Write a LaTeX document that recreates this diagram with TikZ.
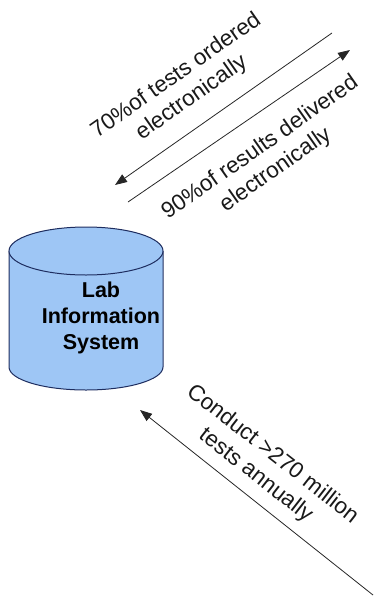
\documentclass[tikz,border=0pt]{standalone}
\usepackage{fontspec}
\setmainfont{Liberation Sans}
\usetikzlibrary{arrows.meta}
\definecolor{cylfill}{RGB}{158,198,245}
\definecolor{cyldraw}{RGB}{30,45,95}
\begin{document}
\begin{tikzpicture}[x=1pt,y=-1pt,
  conn/.style={draw=black!85,line width=0.8pt,-{Triangle[length=12pt,width=9pt]}},
  lbl/.style={font=\fontsize{22.5}{27}\selectfont,align=center,inner sep=0pt,text=black!90},
  lis/.style={font=\bfseries\fontsize{21.5}{26}\selectfont,align=center,inner sep=0pt}]
\useasboundingbox (0,0) rectangle (374,603);
% cylinder
\fill[cylfill] (9,251) rectangle (163,367);
\fill[cylfill] (86,367) ellipse [x radius=77,y radius=23];
\draw[cyldraw,line width=1pt] (9,251) -- (9,367) arc[start angle=180,end angle=360,x radius=77,y radius=-23] -- (163,251);
\draw[cyldraw,fill=cylfill,line width=1pt] (86,251) ellipse [x radius=77,y radius=24];
\node[lis] (lis) at (101,318) {Lab\\Information\\System};
% coordinates
\coordinate (a1s) at (332,33);
\coordinate (a1e) at (115,185);
\coordinate (a2s) at (128,202);
\coordinate (a2e) at (350,50);
\coordinate (a3s) at (373,595);
\coordinate (a3e) at (140,410);
\draw[conn] (a1s) -- (a1e);
\draw[conn] (a2s) -- (a2e);
\draw[conn] (a3s) -- (a3e);
\node[lbl,rotate=35] (t1) at (184,87) {70\%of tests ordered\\electronically};
\node[lbl,rotate=35] (t2) at (268,159) {90\%of results delivered\\electronically};
\node[lbl,rotate=-38] (t3) at (264,465) {Conduct >270 million\\tests annually};
\end{tikzpicture}
\end{document}
